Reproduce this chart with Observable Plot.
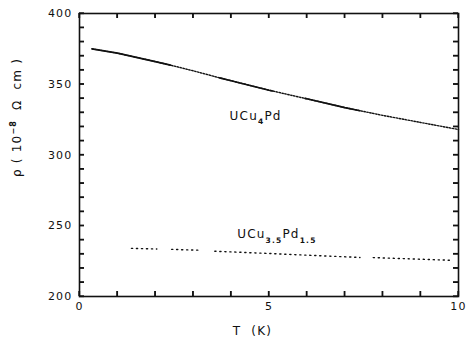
<!DOCTYPE html>
<html><head><meta charset="utf-8">
<script src="https://cdn.jsdelivr.net/npm/d3@7"></script>
<script src="https://cdn.jsdelivr.net/npm/@observablehq/plot@0.6"></script>
<style>
body{margin:0;background:#fff}
#chart svg{display:block}
svg text{white-space:pre}
</style>
</head><body><div id="chart"></div>
<script>
// ---- data ----
const seriesNames = ["UCu4Pd", "UCu3.5Pd1.5"];
const ucu4pdT   = [0.33, 1, 2, 2.4, 3, 3.7, 4, 5, 5.1, 5.95, 6, 7, 7.4, 8, 9, 10];
const ucu4pdRho = [375, 372, 366, 363.5, 359.5, 354.5, 352.5, 345.8, 345.2, 340, 339.7, 333.5, 331.3, 328, 323, 318];
const ucu4pdSolidRanges = [[0.33, 2.4], [3.7, 5.1], [5.95, 7.4]];
const ucu35T   = [1.37, 2.04, 2.43, 3.17, 3.57, 5, 6, 7.4, 7.75, 8.5, 9.8];
const ucu35Rho = [234, 233.6, 233.3, 232.7, 232, 230.4, 229.2, 227.6, 227.5, 226.8, 225.6];
const ucu35Segments = [[1.37, 2.04], [2.43, 3.17], [3.57, 7.4], [7.75, 9.8]];
const xDomain = [0, 10];
const yDomain = [200, 400];
const xTickLabels = [0, 5, 10];
const yTickLabels = [200, 250, 300, 350, 400];
const xMinorTicks = d3.range(0, 11, 1);
const yMinorTicks = d3.range(200, 401, 10);
const labelParts = [
  [["UCu", ""], ["4", "sub"], ["Pd", ""]],
  [["UCu", ""], ["3.5", "sub"], ["Pd", ""], ["1.5", "sub"]]
];
const labelT = [3.96, 4.16];
const labelRho = [327.8, 244.2];
const xTitle = "T  (K)";
const yTitleParts = [["\u03c1 ( 10", ""], ["\u22128", "sup"], ["  \u03a9  cm )", ""]];

// ---- layout ----
const W = 471, H = 347, mL = 79, mR = 13, mT = 13, mB = 51;
const pw = W - mL - mR, ph = H - mT - mB;
const font = "'DejaVu Sans', sans-serif";
const ink = "#111";
const tickLen = 5;

const rows4 = ucu4pdT.map((t, i) => ({T: t, rho: ucu4pdRho[i]}));
const rows35 = ucu35T.map((t, i) => ({T: t, rho: ucu35Rho[i]}));
const inRange = (t, [a, b]) => t >= a - 1e-9 && t <= b + 1e-9;
const plain = parts => parts.map(p => p[0]).join("");
const labelRows = labelParts.map((p, i) => ({text: plain(p), T: labelT[i], rho: labelRho[i]}));
const tickStyle = {stroke: ink, strokeWidth: 1.3};

const chart = Plot.plot({
  width: W, height: H,
  marginLeft: mL, marginRight: mR, marginTop: mT, marginBottom: mB,
  style: {fontFamily: font, fontSize: "11px", color: ink, background: "#fff"},
  x: {domain: xDomain},
  y: {domain: yDomain},
  marks: [
    Plot.axisY(yTickLabels, {anchor: "left", tickSize: 0, tickPadding: 7, fontSize: 11, label: null}),
    Plot.axisX(xTickLabels, {anchor: "bottom", tickSize: 0, tickPadding: 6, fontSize: 11, label: null}),
    // UCu4Pd : dotted base + solid stretches
    Plot.line(rows4, {x: "T", y: "rho", stroke: ink, strokeWidth: 1.4, strokeDasharray: "1.5,1.5"}),
    ...ucu4pdSolidRanges.map(r => Plot.line(rows4.filter(d => inRange(d.T, r)), {x: "T", y: "rho", stroke: ink, strokeWidth: 1.6})),
    // UCu3.5Pd1.5 : dotted segments
    ...ucu35Segments.map(r => Plot.line(rows35.filter(d => inRange(d.T, r)), {x: "T", y: "rho", stroke: ink, strokeWidth: 1.4, strokeDasharray: "1.2,3.8"})),
    // series labels
    Plot.text(labelRows, {x: "T", y: "rho", text: "text", textAnchor: "start", lineAnchor: "middle", fontSize: 12, fill: ink}),
    // axis titles
    Plot.text([xTitle], {frameAnchor: "bottom", dx: -16.5, dy: 35, lineAnchor: "middle", fontSize: 12, fill: ink}),
    Plot.text([plain(yTitleParts)], {frameAnchor: "left", rotate: -90, dx: -62, dy: 22, lineAnchor: "middle", fontSize: 12, fill: ink}),
    Plot.frame({stroke: ink, strokeWidth: 1.6}),
    // inward ticks on all four sides
    Plot.tickY(yMinorTicks, {y: d => d, insetRight: pw - tickLen, ...tickStyle}),
    Plot.tickY(yMinorTicks, {y: d => d, insetLeft: pw - tickLen, ...tickStyle}),
    Plot.tickX(xMinorTicks, {x: d => d, insetTop: ph - tickLen, ...tickStyle}),
    Plot.tickX(xMinorTicks, {x: d => d, insetBottom: ph - tickLen, ...tickStyle})
  ]
});
document.getElementById("chart").appendChild(chart);

// inward ticks again, placed through the plot's own scales (explicit stroke per line)
const sx = chart.scale("x"), sy = chart.scale("y");
const tg = d3.select(chart).append("g").attr("aria-label", "inward ticks");
const x0 = sx.apply(xDomain[0]), x1 = sx.apply(xDomain[1]);
const y0 = sy.apply(yDomain[0]), y1 = sy.apply(yDomain[1]);
yMinorTicks.forEach(v => {
  const y = sy.apply(v);
  [[x0, x0 + tickLen], [x1, x1 - tickLen]].forEach(([a, b]) =>
    tg.append("line").attr("x1", a).attr("x2", b).attr("y1", y).attr("y2", y)
      .attr("stroke", ink).attr("stroke-width", 1.3));
});
xMinorTicks.forEach(v => {
  const x = sx.apply(v);
  [[y0, y0 - tickLen], [y1, y1 + tickLen]].forEach(([a, b]) =>
    tg.append("line").attr("x1", x).attr("x2", x).attr("y1", a).attr("y2", b)
      .attr("stroke", ink).attr("stroke-width", 1.3));
});

// rich text: subscripts / superscripts
function richify(el, parts, subSize, shift) {
  const sel = d3.select(el);
  sel.text(null);
  let cur = 0;
  parts.forEach(([s, kind]) => {
    const target = kind === "sub" ? shift : kind === "sup" ? -shift : 0;
    const t = sel.append("tspan").attr("dy", target - cur).text(s);
    if (kind) t.attr("font-size", subSize).attr("font-weight", "bold");
    cur = target;
  });
}
const root = d3.select(chart);
labelParts.forEach(parts => {
  const s = plain(parts);
  root.selectAll("text").filter(function () { return this.textContent === s; })
    .each(function () { richify(this, parts, 7.5, 5); });
});
root.selectAll("text").filter(function () { return this.textContent === plain(yTitleParts); })
  .each(function () { richify(this, yTitleParts, 8, 5); });
root.selectAll("text").style("letter-spacing", "1.2px");
</script>
</body></html>
